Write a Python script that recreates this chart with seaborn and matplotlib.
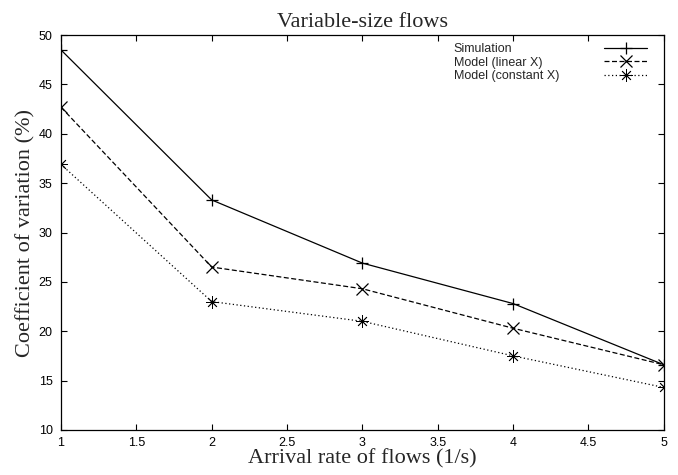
import matplotlib
matplotlib.use("Agg")
import matplotlib.pyplot as plt
import seaborn as sns

# Data
rates = [1, 2, 3, 4, 5]
simulation = [48.5, 33.3, 26.9, 22.8, 16.6]
model_linear = [42.7, 26.5, 24.3, 20.3, 16.6]
model_constant = [36.9, 23.0, 21.0, 17.5, 14.3]
x_ticks = [1, 1.5, 2, 2.5, 3, 3.5, 4, 4.5, 5]
y_ticks = [10, 15, 20, 25, 30, 35, 40, 45, 50]

sns.set_style("ticks")
plt.rcParams["font.family"] = ["Liberation Sans", "DejaVu Sans"]
plt.rcParams["xtick.direction"] = "in"
plt.rcParams["ytick.direction"] = "in"

fig, ax = plt.subplots(figsize=(6.78, 4.75), dpi=100)
fig.subplots_adjust(left=0.09, right=0.979, top=0.926, bottom=0.095)

series = [
    ("Simulation", simulation, "-", "+", 0.9),
    ("Model (linear X)", model_linear, (0, (4, 2)), "x", 0.9),
    ("Model (constant X)", model_constant, (0, (1, 2)), (8, 2, 0), 0.6),
]
for label, vals, ls, mk, mew in series:
    sns.lineplot(x=rates, y=vals, ax=ax, color="black", linewidth=0.9,
                 linestyle=ls, marker=mk, markersize=9,
                 markeredgewidth=mew, markeredgecolor="black",
                 markerfacecolor="black", label=label)

ax.set_xlim(1, 5)
ax.set_ylim(10, 50)
ax.set_xticks(x_ticks)
ax.set_xticklabels([f"{t:g}" for t in x_ticks])
ax.set_yticks(y_ticks)
ax.tick_params(axis="both", which="both", top=True, right=True,
               length=4, width=0.8, labelsize=9, colors="black")
ax.tick_params(axis="y", pad=6)
ax.tick_params(axis="x", pad=5)
for s in ax.spines.values():
    s.set_linewidth(0.9)
    s.set_color("black")

serif = ["Liberation Serif", "DejaVu Serif"]
ax.set_title("Variable-size flows", family=serif, fontsize=16, pad=6)
ax.set_xlabel("Arrival rate of flows (1/s)", family=serif, fontsize=16, labelpad=0)
ax.set_ylabel("Coefficient of variation (%)", family=serif, fontsize=16, labelpad=2)

leg = ax.legend(loc="upper right", bbox_to_anchor=(0.972, 0.98), frameon=False,
                markerfirst=False, handlelength=3.4, fontsize=9, numpoints=1,
                borderaxespad=0, borderpad=0, labelspacing=0.12)
# gnuplot-style key: text left-aligned, samples right-aligned
for col in leg._legend_handle_box.get_children():
    for row in col.get_children():
        row.mode = "expand"
        row.width = 193

fig.savefig("out.png", dpi=100)
